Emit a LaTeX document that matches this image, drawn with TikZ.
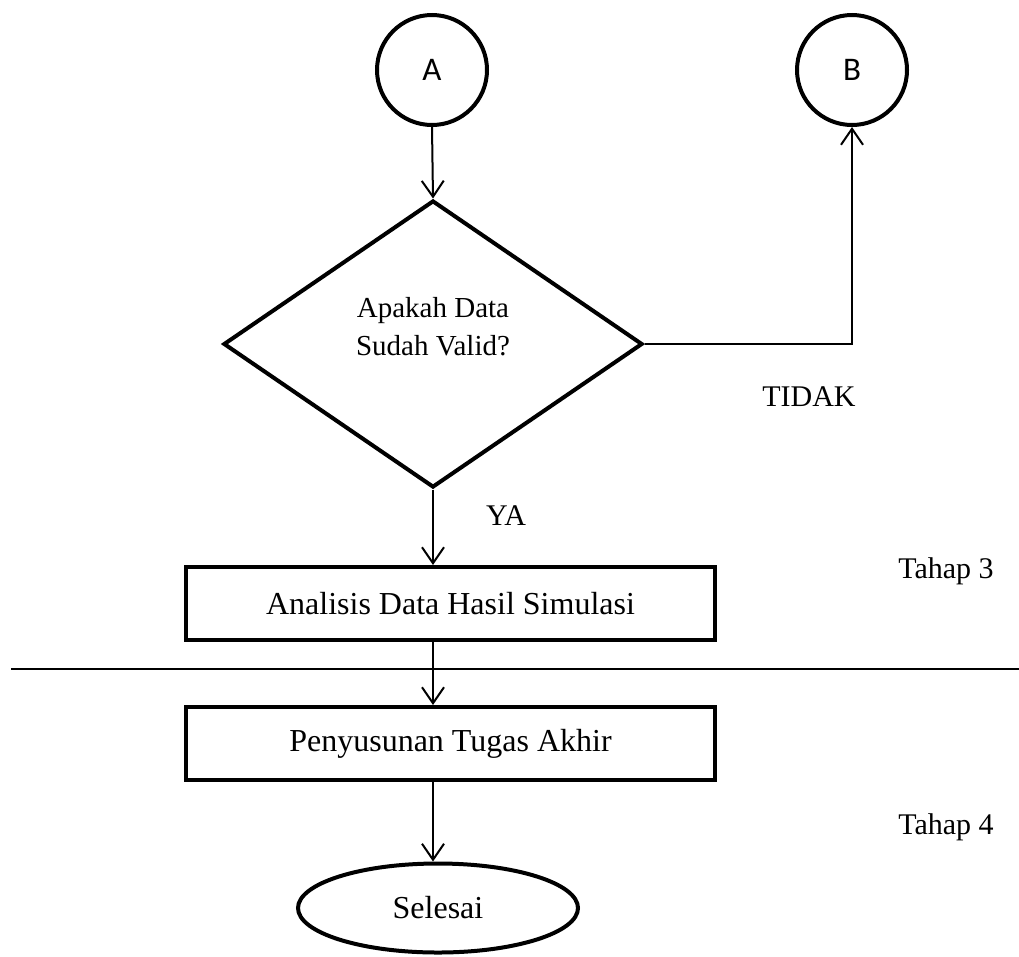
\documentclass[tikz,border=0pt]{standalone}
\usepackage{fontspec}
\setmainfont{Liberation Serif}
\newfontfamily\calib{Carlito}
\usetikzlibrary{shapes.geometric,arrows.meta}
\begin{document}
\begin{tikzpicture}[x=1pt,y=-1pt,
  shapeline/.style={draw,line width=4pt,inner sep=0pt},
  conn/.style={line width=2pt,-{Straight Barb[length=16pt,width=22pt,line width=2pt]}},
  plain/.style={line width=2pt},
  lbl/.style={font=\fontsize{30}{36}\selectfont,anchor=base,inner sep=0pt},
  boxtxt/.style={font=\fontsize{32}{38}\selectfont},
  conntxt/.style={font=\calib\fontsize{33}{40}\selectfont}]
\useasboundingbox (0,0) rectangle (1019,956);
\node[shapeline,circle,minimum size=110pt,conntxt] (A) at (432,70) {A};
\node[shapeline,circle,minimum size=110pt,conntxt] (B) at (852,70) {B};
\node[shapeline,diamond,minimum width=419pt,minimum height=287pt,aspect=1.46,
  label={[font=\fontsize{29}{38}\selectfont,align=center,yshift=17pt]center:{Apakah Data\\Sudah Valid?}}] (D) at (433,344) {};
\node[shapeline,rectangle,minimum width=529pt,minimum height=73pt,boxtxt] (P1) at (450.5,603.5) {Analisis Data Hasil Simulasi};
\node[shapeline,rectangle,minimum width=529pt,minimum height=73pt,boxtxt] (P2) at (450.5,743.5) {Penyusunan Tugas Akhir};
\node[shapeline,ellipse,minimum width=280pt,minimum height=89pt,boxtxt] (E) at (438,908) {Selesai};
\coordinate (L1) at (11,669);
\coordinate (L2) at (1019,669);
\coordinate (K) at (852,344);
\draw[conn] (A.south) -- (D.north);
\draw[conn] (D.east) -- (K) -- (B.south);
\draw[conn] (D.south) -- (P1.north -| D.south);
\draw[conn] (P1.south -| D.south) -- (P2.north -| D.south);
\draw[conn] (P2.south -| D.south) -- (E.north -| D.south);
\draw[plain] (L1) -- (L2);
\node[lbl] (tidak) at (809,406) {TIDAK};
\node[lbl] (ya) at (506,525) {YA};
\node[lbl] (t3) at (946,578) {Tahap 3};
\node[lbl] (t4) at (946,834) {Tahap 4};
\end{tikzpicture}
\end{document}
